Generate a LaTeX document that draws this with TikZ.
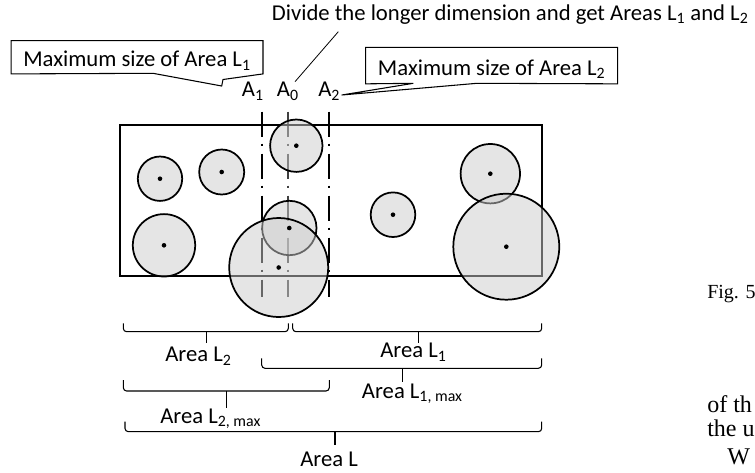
\documentclass[tikz,border=0pt]{standalone}
\usepackage{fontspec}
\setmainfont{Carlito}
\newfontfamily\pagefont{Liberation Serif}

\begin{document}
\begin{tikzpicture}[x=0.75pt,y=-0.75pt,
  txt/.style={inner sep=0pt,anchor=base west,font=\fontsize{17}{20}\selectfont},
  callbox/.style={inner xsep=9pt,inner ysep=5pt,font=\fontsize{17}{20}\selectfont},
  callline/.style={line width=0.8pt,line join=miter},
  divline/.style={line width=1.75pt,dash pattern=on 18.75pt off 5.25pt on 1.5pt off 6pt},
  ball/.style={circle,draw,line width=1.3pt,fill=black!20,fill opacity=0.5,inner sep=0pt,minimum size=#1*0.75pt},
  areabrace/.style={line width=0.8pt,rounded corners=2.5pt},
  pagetext/.style={inner sep=0pt,anchor=base west,font=\pagefont\fontsize{#1}{#1}\selectfont}]
  \useasboundingbox (0,0) rectangle (755,472);

  % Labels above the box
  \node[txt] (divide) at (271.7,20) {Divide the longer dimension and get Areas L\textsubscript{1} and L\textsubscript{2}};
  \node[txt] (a1) at (241.7,96.7) {A\textsubscript{1}};
  \node[txt] (a0) at (276.7,96.7) {A\textsubscript{0}};
  \node[txt] (a2) at (318,96.7) {A\textsubscript{2}};
  \node[callbox,text height=14.5pt,text depth=0pt,anchor=north east] (maxone) at (263,40.7) {Maximum size of Area L\textsubscript{1}};
  \node[callbox,text height=15.8pt,text depth=1.2pt,anchor=north west] (maxtwo) at (365.7,47.3) {Maximum size of Area L\textsubscript{2}};
  \coordinate (tipone) at (221.7,86);
  \coordinate (tiptwo) at (341.7,95);
  \coordinate (divfoot) at (338.3,31.7);
  \coordinate (divhead) at (295,81.7);

  % Callouts
  \draw[callline] (maxone.south west) -- (maxone.north west) -- (maxone.north east) -- (maxone.south east)
    -- (223,79.5) -- (tipone) -- (153,73.3) -- cycle;
  \draw[callline] (maxtwo.south west) -- (maxtwo.north west) -- (maxtwo.north east) -- (maxtwo.south east)
    -- (477,83.3) -- (tiptwo) -- (413.3,83.3) -- cycle;
  \draw[line width=0.6pt] (divfoot) -- (divhead);

  % Division lines and box
  \draw[divline] (262,111.7) -- (262,297.3);
  \draw[divline,black!75] (288,111.7) -- (288,297.3);
  \draw[divline] (329,111.7) -- (329,297.3);
  \draw[line width=1.9pt] (120,125) rectangle (542,276);

  % Circles
  \node[ball=44.4] (b1) at (160,178.7) {};
  \node[ball=45] (b2) at (221.7,172) {};
  \node[ball=52.4] (b3) at (296.3,145.7) {};
  \node[ball=62.4] (b4) at (164,245.3) {};
  \node[ball=54.4] (b5) at (289.3,228) {};
  \node[ball=99] (b6) at (278.7,267.5) {};
  \node[ball=44.6] (b7) at (393,214.7) {};
  \node[ball=59.4] (b8) at (490.3,173.7) {};
  \node[ball=106] (b9) at (506.3,246.7) {};
  \foreach \n in {1,...,9}
    \fill (b\n.center) circle[radius=2.3];

  % Braces under the box
  \draw[areabrace] (123.3,323.3) |- (288.3,331.7) -- (288.3,323.3);
  \draw[areabrace] (206.7,331.7) -- (206.7,343.3);
  \draw[areabrace] (292.7,323.3) |- (541.7,331.7) -- (541.7,323.3);
  \draw[areabrace] (418.3,331.7) -- (418.3,343.3);
  \draw[areabrace] (261.7,358.3) |- (541.7,368.3) -- (541.7,358.3);
  \draw[areabrace] (402.7,368.3) -- (402.7,381.7);
  \draw[areabrace] (123.3,380) |- (329.3,391) -- (329.3,380);
  \draw[areabrace] (226.7,391) -- (226.7,408.3);
  \draw[areabrace] (125,421.7) |- (541.7,431.7) -- (541.7,421.7);
  \draw[areabrace] (335,431.7) -- (335,445);

  \node[txt] (ltwo) at (165,361.7) {Area L\textsubscript{2}};
  \node[txt] (lone) at (380,357.7) {Area L\textsubscript{1}};
  \node[txt] (lonemax) at (361.7,398.3) {Area L\textsubscript{1, max}};
  \node[txt] (ltwomax) at (160,423.3) {Area L\textsubscript{2, max}};
  \node[txt] (lall) at (300,466.7) {Area L};

  % Page text beside the figure
  \node[pagetext=15] (figno) at (707,298.3) {Fig. 5};
  \node[pagetext=18] (lineone) at (707,412) {of th};
  \node[pagetext=18] (linetwo) at (707,436) {the u};
  \node[pagetext=18] (linethree) at (727,464) {W};
\end{tikzpicture}
\end{document}
